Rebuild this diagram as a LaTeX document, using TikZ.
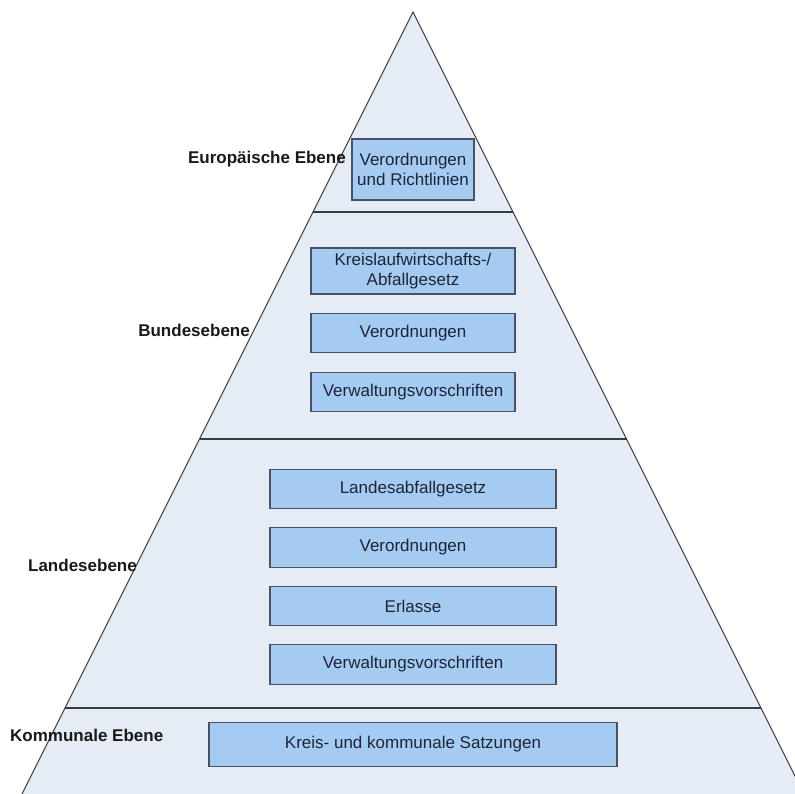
\documentclass[tikz,border=0pt]{standalone}
\usepackage{fontspec}
\setmainfont{Liberation Sans}
\definecolor{pyrfill}{RGB}{230,236,246}
\definecolor{boxfill}{RGB}{166,203,242}
\definecolor{boxline}{RGB}{72,82,98}
\definecolor{pyrline}{RGB}{60,60,64}
\definecolor{boxtext}{RGB}{28,36,56}
\begin{document}
\begin{tikzpicture}[x=1pt,y=-1pt,
  lawbox/.style={draw=boxline,line width=1.1pt,fill=boxfill,inner sep=0pt,align=center,
    font=\fontsize{17}{19.5}\selectfont,text=boxtext},
  levellabel/.style={font=\bfseries\fontsize{17}{19.5}\selectfont,inner sep=0pt,text=black!90},
  divider/.style={draw=pyrline,line width=1.2pt}]
\useasboundingbox (0,0) rectangle (795,794);
\clip (0,0) rectangle (795,794);
% pyramid (base lies below the visible area)
\coordinate (apex) at (413,12);
\coordinate (bl) at (17,804);
\coordinate (br) at (809,804);
\filldraw[fill=pyrfill,draw=pyrline,line width=1pt] (apex) -- (bl) -- (br) -- cycle;
% dividers
\coordinate (d1l) at (313,212);   \coordinate (d1r) at (513,212);
\coordinate (d2l) at (199.5,439); \coordinate (d2r) at (626.5,439);
\coordinate (d3l) at (65,708);    \coordinate (d3r) at (761,708);
\draw[divider] (d1l) -- (d1r);
\draw[divider] (d2l) -- (d2r);
\draw[divider] (d3l) -- (d3r);
% European level
\node[lawbox,minimum width=122pt,minimum height=61pt] (eu) at (413,169.5) {Verordnungen\\und Richtlinien};
% Federal level
\node[lawbox,minimum width=204pt,minimum height=46pt] (b1) at (413,271) {Kreislaufwirtschafts-/\\Abfallgesetz};
\node[lawbox,minimum width=204pt,minimum height=39.5pt] (b2) at (413,333) {Verordnungen};
\node[lawbox,minimum width=204pt,minimum height=39.5pt] (b3) at (413,392) {Verwaltungsvorschriften};
% State level
\node[lawbox,minimum width=286pt,minimum height=39.5pt] (l1) at (413,489) {Landesabfallgesetz};
\node[lawbox,minimum width=286pt,minimum height=39.5pt] (l2) at (413,547.5) {Verordnungen};
\node[lawbox,minimum width=286pt,minimum height=39.5pt] (l3) at (413,606) {Erlasse};
\node[lawbox,minimum width=286pt,minimum height=39.5pt] (l4) at (413,664.5) {Verwaltungsvorschriften};
% Municipal level
\node[lawbox,minimum width=408pt,minimum height=44.5pt] (k1) at (413,744.5) {Kreis- und kommunale Satzungen};
% labels
\node[levellabel,anchor=east] (leu) at (346,159) {Europäische Ebene};
\node[levellabel,anchor=east] (lbund) at (250,330) {Bundesebene};
\node[levellabel,anchor=east] (lland) at (137,565) {Landesebene};
\node[levellabel,anchor=west] (lkomm) at (10,735) {Kommunale Ebene};
\end{tikzpicture}
\end{document}
